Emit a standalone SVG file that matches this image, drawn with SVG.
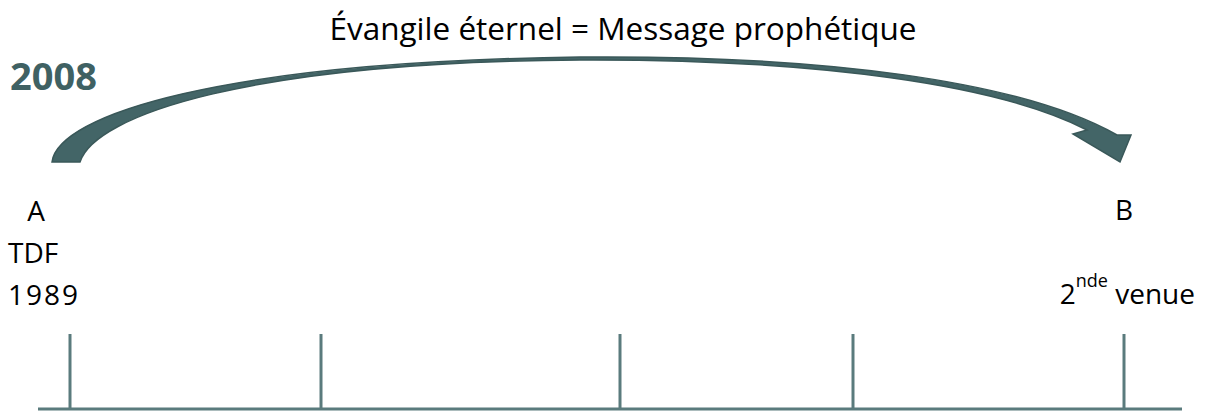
<svg xmlns="http://www.w3.org/2000/svg" width="1205" height="412" viewBox="0 0 1205 412">
<style>
.t{font-family:"Open Sans","Liberation Sans",sans-serif;font-size:28px;fill:#000}
.h{font-family:"Open Sans","Liberation Sans",sans-serif;font-size:31.5px;fill:#000}
.yr{font-family:"Open Sans","Liberation Sans",sans-serif;font-size:38px;font-weight:bold;fill:#3f6163}
.tick{stroke:#5a7b7d;stroke-width:3;fill:none}
.arc{fill:#436567;stroke:#3a5859;stroke-width:1.5;stroke-linejoin:miter}
</style>
<rect width="1205" height="412" fill="#fff"/>
<g id="title"><text class="h" x="623" y="40" text-anchor="middle">Évangile éternel = Message prophétique</text></g>
<g id="year"><text class="yr" x="10" y="90">2008</text></g>
<g id="nodeA">
<text class="t" x="36" y="221" text-anchor="middle">A</text>
<text class="t" x="8" y="263">TDF</text>
<text class="t" x="8" y="305" textLength="70" lengthAdjust="spacing">1989</text>
</g>
<g id="nodeB">
<text class="t" x="1124" y="220" text-anchor="middle">B</text>
<text class="t" x="1195" y="304" text-anchor="end">2<tspan font-size="18" dy="-17">nde</tspan><tspan dy="17"> venue</tspan></text>
</g>
<g id="connectors">
<path class="arc" d="M52,162 C58,115 220,62 580,57 C820,55 1020,80 1117,135 L1131,135 L1120,162 L1073,134 L1087,130 C1000,85 820,59 580,60 C250,62 95,115 80,162 Z"/>
</g>
<g id="timeline">
<line class="tick" x1="38" y1="409" x2="1182" y2="409"/>
<line class="tick" x1="70" y1="334" x2="70" y2="409"/>
<line class="tick" x1="321" y1="334" x2="321" y2="409"/>
<line class="tick" x1="620" y1="334" x2="620" y2="409"/>
<line class="tick" x1="853" y1="334" x2="853" y2="409"/>
<line class="tick" x1="1124" y1="334" x2="1124" y2="409"/>
</g>
</svg>
